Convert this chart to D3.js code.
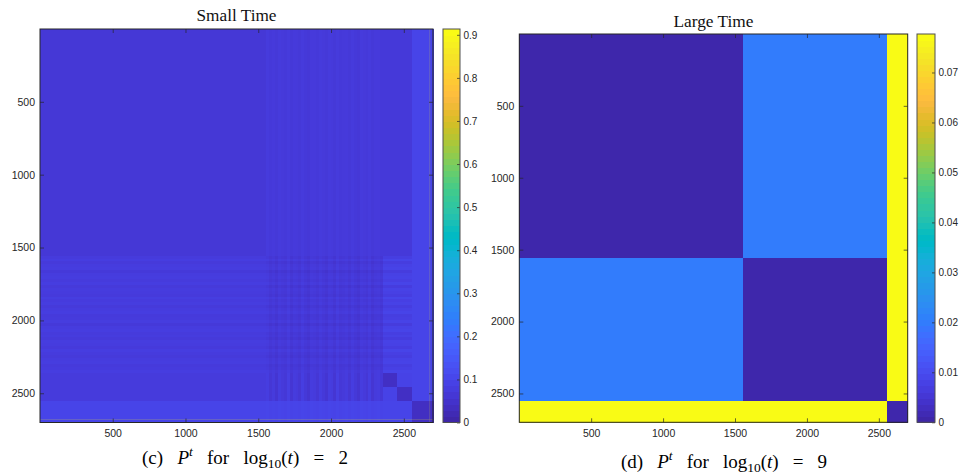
<!DOCTYPE html>
<html><head><meta charset="utf-8">
<script src="https://cdn.jsdelivr.net/npm/d3@7"></script>
<style>body{margin:0;background:#fff} svg{display:block}</style>
</head><body><svg id="c" width="961" height="476"></svg>
<script>
// ---- colormap (MATLAB parula, 64 entries) ----
const parula = [
[0.2422,0.1504,0.6603],[0.2504,0.1650,0.7076],[0.2578,0.1818,0.7511],[0.2647,0.1978,0.7952],
[0.2706,0.2147,0.8364],[0.2751,0.2342,0.8710],[0.2783,0.2559,0.8991],[0.2803,0.2782,0.9221],
[0.2813,0.3006,0.9414],[0.2810,0.3228,0.9579],[0.2795,0.3447,0.9717],[0.2760,0.3667,0.9829],
[0.2699,0.3892,0.9906],[0.2602,0.4123,0.9952],[0.2440,0.4358,0.9988],[0.2206,0.4603,0.9973],
[0.1963,0.4847,0.9892],[0.1834,0.5074,0.9798],[0.1786,0.5289,0.9682],[0.1764,0.5499,0.9520],
[0.1687,0.5703,0.9359],[0.1540,0.5902,0.9218],[0.1460,0.6091,0.9079],[0.1380,0.6276,0.8973],
[0.1248,0.6459,0.8883],[0.1113,0.6635,0.8763],[0.0952,0.6798,0.8598],[0.0689,0.6948,0.8394],
[0.0297,0.7082,0.8163],[0.0036,0.7203,0.7917],[0.0067,0.7312,0.7660],[0.0433,0.7411,0.7394],
[0.0964,0.7500,0.7120],[0.1408,0.7584,0.6842],[0.1717,0.7670,0.6554],[0.1938,0.7758,0.6251],
[0.2161,0.7843,0.5923],[0.2470,0.7918,0.5567],[0.2906,0.7973,0.5188],[0.3406,0.8008,0.4789],
[0.3909,0.8029,0.4354],[0.4456,0.8024,0.3909],[0.5044,0.7993,0.3480],[0.5616,0.7942,0.3045],
[0.6174,0.7876,0.2612],[0.6720,0.7793,0.2227],[0.7242,0.7698,0.1910],[0.7738,0.7598,0.1646],
[0.8203,0.7498,0.1535],[0.8634,0.7406,0.1596],[0.9035,0.7330,0.1774],[0.9393,0.7288,0.2100],
[0.9728,0.7298,0.2394],[0.9956,0.7434,0.2371],[0.9970,0.7659,0.2199],[0.9952,0.7893,0.2028],
[0.9892,0.8136,0.1885],[0.9786,0.8386,0.1766],[0.9676,0.8639,0.1643],[0.9610,0.8890,0.1537],
[0.9597,0.9135,0.1423],[0.9628,0.9373,0.1265],[0.9691,0.9606,0.1064],[0.9769,0.9839,0.0805]];

// ---- data ----
const nNodes = 2700;
const axisTicks = [500, 1000, 1500, 2000, 2500];

// Small time (log10 t = 2)
const smallMax = 0.9135;
const smallCbarTicks = [0, 0.1, 0.2, 0.3, 0.4, 0.5, 0.6, 0.7, 0.8, 0.9];
const smallEdges = [0, 1555, 2357, 2456, 2554, 2700];
const smallBlocks = [
  [0.060, 0.066, 0.064, 0.064, 0.094],
  [0.071, 0.062, 0.084, 0.084, 0.094],
  [0.070, 0.066, 0.034, 0.090, 0.094],
  [0.070, 0.066, 0.090, 0.034, 0.094],
  [0.094, 0.094, 0.094, 0.094, 0.032]
];
// stripe offsets inside block 1 (nodes 1555-2357), 40 bands each
const colStripes = [0.006,-0.004,0.002,-0.007,0.005,0.000,-0.003,0.008,-0.006,0.003,
                    0.001,-0.005,0.007,-0.002,-0.008,0.004,0.002,-0.004,0.006,-0.001,
                   -0.007,0.005,0.003,-0.006,0.008,-0.003,0.000,0.004,-0.005,0.006,
                   -0.002,-0.008,0.005,0.001,-0.004,0.007,-0.006,0.002,0.004,-0.003];
const rowStripes = [-0.003,0.007,-0.006,0.002,0.005,-0.008,0.001,0.004,-0.002,0.006,
                    -0.007,0.003,0.000,-0.005,0.008,-0.001,0.004,-0.006,0.002,0.007,
                    -0.004,-0.002,0.005,-0.008,0.003,0.006,-0.003,0.001,-0.007,0.004,
                     0.002,-0.005,0.007,-0.001,-0.006,0.003,0.005,-0.004,0.000,0.006];
// [rowBlock, colBlock, rowGain, colGain]
const stripeBlocks = [[1,0,0.8,0],[1,2,1.6,0],[1,3,1.6,0],[1,1,1,1],
                      [0,1,0,0.5],[2,1,0,1.8],[3,1,0,1.8],[4,1,0,0.4]];
const smallHub = {from: 2677, to: 2680, value: 0.9};

// Large time (log10 t = 9)
const largeMax = 0.0777;
const largeCbarTicks = [0, 0.01, 0.02, 0.03, 0.04, 0.05, 0.06, 0.07];
const largeEdges = [0, 1555, 2554, 2700];
const largeBlocks = [
  [0.0003, 0.0197, 0.0900],
  [0.0197, 0.0003, 0.0900],
  [0.0900, 0.0900, 0.0004]
];

// ---- helpers ----
const parulaHex = parula.map(c => d3.rgb(c[0]*255, c[1]*255, c[2]*255).formatHex());
function makeColor(maxV) {
  return d3.scaleLinear().domain(d3.range(64).map(i => i / 63 * maxV)).range(parulaHex).clamp(true);
}
const svg = d3.select("#c");
const txt = "#262626";
const sans = "'Liberation Sans', Arial, Helvetica, sans-serif";
const serif = "'Liberation Serif', 'Times New Roman', serif";

function drawPanel(cfg) {
  const x = d3.scaleLinear().domain([0.5, nNodes + 0.5]).range([cfg.x0, cfg.x1]);
  const y = d3.scaleLinear().domain([0.5, nNodes + 0.5]).range([cfg.y0, cfg.y1]);
  const col = makeColor(cfg.max);
  const g = svg.append("g").attr("shape-rendering", "crispEdges");
  const cells = [];
  const E = cfg.edges;
  for (let r = 0; r < E.length - 1; r++) {
    for (let c = 0; c < E.length - 1; c++) {
      const base = cfg.blocks[r][c];
      const st = (cfg.stripes || []).find(s => s[0] === r && s[1] === c);
      if (!st) { cells.push({r0: E[r], r1: E[r+1], c0: E[c], c1: E[c+1], v: base}); continue; }
      const nr = st[2] ? rowStripes.length : 1, nc = st[3] ? colStripes.length : 1;
      for (let i = 0; i < nr; i++) for (let j = 0; j < nc; j++) {
        const r0 = E[r] + (E[r+1]-E[r]) * i / nr, r1 = E[r] + (E[r+1]-E[r]) * (i+1) / nr;
        const c0 = E[c] + (E[c+1]-E[c]) * j / nc, c1 = E[c] + (E[c+1]-E[c]) * (j+1) / nc;
        const v = base + (st[2] ? st[2]*rowStripes[i] : 0) + (st[3] ? st[3]*colStripes[j] : 0);
        cells.push({r0, r1, c0, c1, v});
      }
    }
  }
  g.selectAll("rect.cell").data(cells).join("rect").attr("class", "cell")
    .attr("x", d => x(d.c0 + 0.5)).attr("y", d => y(d.r0 + 0.5))
    .attr("width", d => x(d.c1 + 0.5) - x(d.c0 + 0.5) + 0.6)
    .attr("height", d => y(d.r1 + 0.5) - y(d.r0 + 0.5) + 0.6)
    .attr("fill", d => col(d.v));
  if (cfg.hub) {
    const h = cfg.hub;
    const hg = svg.append("g").attr("fill", col(h.value)).attr("opacity", 0.4);
    hg.append("rect").attr("x", x(h.from + 0.5)).attr("width", x(h.to + 0.5) - x(h.from + 0.5))
      .attr("y", cfg.y0).attr("height", cfg.y1 - cfg.y0);
    hg.append("rect").attr("y", y(h.from + 0.5)).attr("height", y(h.to + 0.5) - y(h.from + 0.5))
      .attr("x", cfg.x0).attr("width", cfg.x1 - cfg.x0);
  }
  // axes
  const styleAxis = a => {
    a.select(".domain").remove();
    a.selectAll(".tick line").attr("stroke", txt).attr("stroke-width", 0.7);
    a.selectAll("text").attr("fill", txt).attr("font-family", sans).attr("font-size", 10.5);
  };
  const fmt = d => String(d);
  svg.append("g").attr("transform", `translate(0,${cfg.y1})`)
    .call(d3.axisBottom(x).tickValues(axisTicks).tickSize(-4).tickPadding(7.5).tickFormat(fmt)).call(styleAxis);
  svg.append("g").attr("transform", `translate(0,${cfg.y0})`)
    .call(d3.axisTop(x).tickValues(axisTicks).tickSize(-4).tickFormat("")).call(styleAxis);
  svg.append("g").attr("transform", `translate(${cfg.x0},0)`)
    .call(d3.axisLeft(y).tickValues(axisTicks).tickSize(-4).tickPadding(5).tickFormat(fmt)).call(styleAxis);
  svg.append("g").attr("transform", `translate(${cfg.x1},0)`)
    .call(d3.axisRight(y).tickValues(axisTicks).tickSize(-4).tickFormat("")).call(styleAxis);
  svg.append("rect").attr("x", cfg.x0).attr("y", cfg.y0).attr("width", cfg.x1 - cfg.x0)
    .attr("height", cfg.y1 - cfg.y0).attr("fill", "none").attr("stroke", txt).attr("stroke-width", 1);

  // colorbar
  const cb = cfg.cb;
  const cy = d3.scaleLinear().domain([0, cfg.max]).range([cfg.y1, cfg.y0]);
  svg.append("g").attr("shape-rendering", "crispEdges").selectAll("rect").data(d3.range(64)).join("rect")
    .attr("x", cb.x0).attr("width", cb.x1 - cb.x0)
    .attr("y", i => cy((i + 1) / 64 * cfg.max))
    .attr("height", i => cy(i / 64 * cfg.max) - cy((i + 1) / 64 * cfg.max) + 0.6)
    .attr("fill", i => parulaHex[i]);
  svg.append("g").attr("transform", `translate(${cb.x1},0)`)
    .call(d3.axisRight(cy).tickValues(cfg.cbTicks).tickSize(-3).tickPadding(3.5)
      .tickFormat(d => d === 0 ? "0" : d.toFixed(cfg.digits))).call(styleAxis)
    .selectAll("text").attr("font-size", 10);
  svg.append("rect").attr("x", cb.x0).attr("y", cfg.y0).attr("width", cb.x1 - cb.x0)
    .attr("height", cfg.y1 - cfg.y0).attr("fill", "none").attr("stroke", "#505050").attr("stroke-width", 1);

  // title
  const t = svg.append("text").attr("x", (cfg.x0 + cfg.x1) / 2).attr("y", cfg.titleY)
    .attr("text-anchor", "middle").attr("font-family", serif).attr("font-size", 14.5).attr("fill", "#111")
    .text(cfg.title);
  fitWidth(t, 80);

  // caption
  const cap = svg.append("text").attr("x", cfg.capX).attr("y", cfg.capY).attr("text-anchor", "middle")
    .attr("font-family", serif).attr("font-size", 19).attr("fill", "#000");
  cap.append("tspan").text(cfg.capLabel + " ");
  cap.append("tspan").attr("font-style", "italic").text("P");
  cap.append("tspan").attr("font-style", "italic").attr("font-size", 13.5).attr("dy", -8).text("t");
  cap.append("tspan").attr("dy", 8).text(" for log");
  cap.append("tspan").attr("font-size", 13.5).attr("dy", 4).text("10");
  cap.append("tspan").attr("dy", -4).text("(");
  cap.append("tspan").attr("font-style", "italic").text("t");
  cap.append("tspan").text(") = " + cfg.capValue);
  const w0 = cap.node().getBBox().width;
  cap.attr("word-spacing", Math.max(0, (206 - w0) / 5));
}
function fitWidth(sel, w) {
  const cur = sel.node().getBBox().width;
  if (cur > 0) sel.attr("font-size", parseFloat(sel.attr("font-size")) * w / cur);
}

drawPanel({x0: 40, x1: 433, y0: 29, y1: 422.5, max: smallMax, edges: smallEdges, blocks: smallBlocks,
  stripes: stripeBlocks, hub: smallHub, cb: {x0: 443, x1: 460}, cbTicks: smallCbarTicks, digits: 1,
  title: "Small Time", titleY: 21, capX: 245, capY: 464, capLabel: "(c)", capValue: "2"});
drawPanel({x0: 519.3, x1: 907.7, y0: 34, y1: 422.3, max: largeMax, edges: largeEdges, blocks: largeBlocks,
  cb: {x0: 917, x1: 935}, cbTicks: largeCbarTicks, digits: 2,
  title: "Large Time", titleY: 27, capX: 724, capY: 468, capLabel: "(d)", capValue: "9"});
</script></body></html>
